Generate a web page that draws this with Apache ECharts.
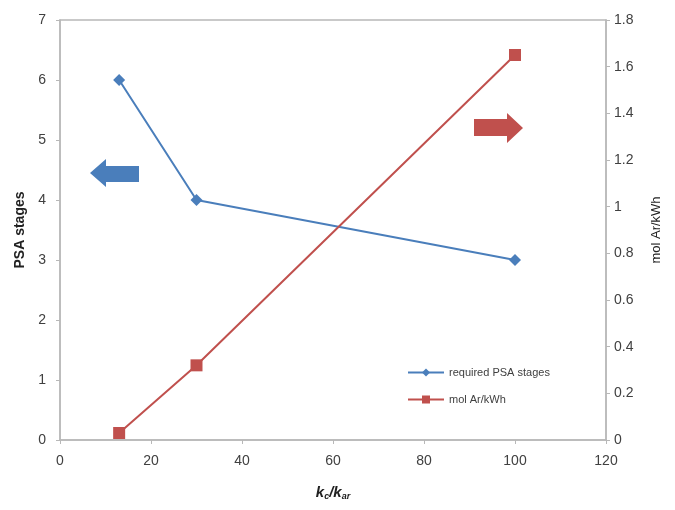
<!DOCTYPE html>
<html>
<head>
<meta charset="utf-8">
<script src="https://cdn.jsdelivr.net/npm/echarts@6/dist/echarts.min.js"></script>
<style>
  html, body { margin: 0; padding: 0; background: #fff; }
  #chart { width: 675px; height: 510px; }
</style>
</head>
<body>
<div id="chart"></div>
<script>
// k_c / k_ar ratio for each case
const ratios = [13, 30, 100];
// Number of PSA stages required (left axis)
const psaStages = [6, 4, 3];
// Argon produced per unit of energy (right axis)
const molArPerKWh = [0.03, 0.32, 1.65];
// Axis tick ranges
const xTicks = { min: 0, max: 120, step: 20 };
const leftTicks = { min: 0, max: 7, step: 1 };
const rightTicks = { min: 0, max: 1.8, step: 0.2 };

const BLUE = '#4a7ebb';
const RED = '#c0504d';
const AXIS = '#b8b8b8';
const TEXT = '#404040';
const FONT = 'Liberation Sans, Arial, sans-serif';

const chart = echarts.init(document.getElementById('chart'), null, { renderer: 'canvas' });

const fmt = v => String(Math.round(v * 10) / 10);

const axisCommon = {
  axisLine: { show: true, lineStyle: { color: AXIS, width: 1.5 } },
  axisTick: { show: true, length: 4, lineStyle: { color: AXIS } },
  splitLine: { show: false },
  axisLabel: { color: TEXT, fontFamily: FONT, fontSize: 14 }
};

chart.setOption({
  backgroundColor: '#fff',
  animation: false,
  grid: {
    left: 60, right: 69, top: 20, bottom: 70,
    show: true, borderColor: AXIS, borderWidth: 1.5, backgroundColor: 'transparent'
  },
  legend: {
    left: 402, top: 362, orient: 'vertical', itemGap: 16,
    itemWidth: 36, itemHeight: 10,
    textStyle: { color: TEXT, fontFamily: FONT, fontSize: 11 },
    data: ['required PSA stages', 'mol Ar/kWh']
  },
  xAxis: Object.assign({}, axisCommon, {
    type: 'value',
    min: xTicks.min, max: xTicks.max, interval: xTicks.step,
    name: '{k|k}{s|c}{k|/k}{s|ar}',
    nameLocation: 'middle', nameGap: 44,
    nameTextStyle: {
      rich: {
        k: { fontFamily: FONT, fontSize: 15, fontWeight: 'bold', fontStyle: 'italic', color: '#222' },
        s: { fontFamily: FONT, fontSize: 9, fontWeight: 'bold', fontStyle: 'italic', color: '#222', verticalAlign: 'bottom', padding: [8, 0, 0, 0] }
      }
    },
    axisLabel: Object.assign({}, axisCommon.axisLabel, { margin: 14 })
  }),
  yAxis: [
    Object.assign({}, axisCommon, {
      type: 'value', position: 'left',
      min: leftTicks.min, max: leftTicks.max, interval: leftTicks.step,
      name: 'PSA stages', nameLocation: 'middle', nameGap: 30, nameRotate: 90,
      nameTextStyle: { color: '#222', fontFamily: FONT, fontSize: 14, fontWeight: 'bold' },
      axisLabel: Object.assign({}, axisCommon.axisLabel, { margin: 14 })
    }),
    Object.assign({}, axisCommon, {
      type: 'value', position: 'right',
      min: rightTicks.min, max: rightTicks.max, interval: rightTicks.step,
      name: 'mol Ar/kWh', nameLocation: 'middle', nameGap: 44, nameRotate: 90,
      nameTextStyle: { color: '#222', fontFamily: FONT, fontSize: 13 },
      axisLabel: Object.assign({}, axisCommon.axisLabel, { margin: 8, formatter: fmt })
    })
  ],
  series: [
    {
      name: 'required PSA stages', type: 'line', yAxisIndex: 0,
      data: ratios.map((x, i) => [x, psaStages[i]]),
      symbol: 'diamond', symbolSize: 12,
      lineStyle: { color: BLUE, width: 2 },
      itemStyle: { color: BLUE }
    },
    {
      name: 'mol Ar/kWh', type: 'line', yAxisIndex: 1,
      data: ratios.map((x, i) => [x, molArPerKWh[i]]),
      symbol: 'rect', symbolSize: 12,
      lineStyle: { color: RED, width: 2 },
      itemStyle: { color: RED }
    }
  ],
  graphic: [
    {
      // blue arrow pointing to the left axis
      type: 'polygon',
      shape: { points: [[90, 173], [106, 159], [106, 166], [139, 166], [139, 182], [106, 182], [106, 187]] },
      style: { fill: BLUE }
    },
    {
      // red arrow pointing to the right axis
      type: 'polygon',
      shape: { points: [[523, 128], [507, 113], [507, 119], [474, 119], [474, 136], [507, 136], [507, 143]] },
      style: { fill: RED }
    }
  ]
});
</script>
</body>
</html>
